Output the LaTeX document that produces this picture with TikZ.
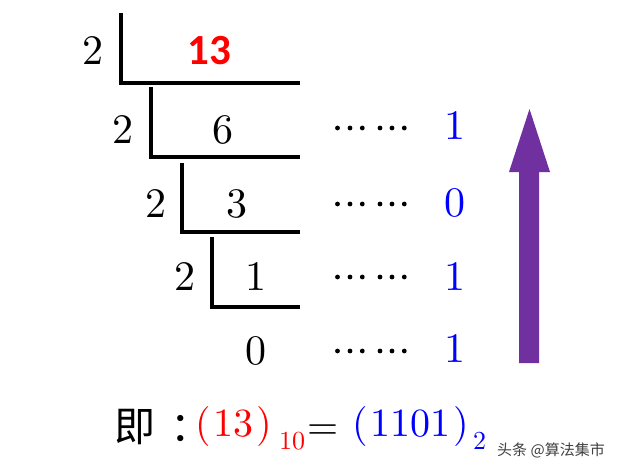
\documentclass[tikz,border=0pt]{standalone}
\usepackage{fontspec}
\newfontfamily\cjk{Noto Sans CJK SC}
\newfontfamily\calib{Carlito}
\newfontfamily\lmten{lmroman10-regular}[Extension=.otf]
\definecolor{arrowpurple}{HTML}{7030A0}
\definecolor{resblue}{HTML}{0000FF}
\definecolor{resred}{HTML}{FF0000}
\begin{document}
\begin{tikzpicture}[x=1pt,y=-1pt,
  num/.style={font=\lmten\fontsize{42}{50}\selectfont, inner sep=0pt},
  res/.style={num, text=resblue},
  dotmark/.style={fill=black, draw=none},
  bracket/.style={line width=4pt},
  formula/.style={font=\lmten\fontsize{40}{48}\selectfont, inner sep=0pt, anchor=base west},
  subs/.style={font=\lmten\fontsize{26}{30}\selectfont, inner sep=0pt, anchor=base west},
]
\fill[white] (0,0) rectangle (640,471);
\useasboundingbox (0,0) rectangle (640,471);

% brackets
\draw[bracket] (121,13) -- (121,83) -- (300,83);
\draw[bracket] (151,87) -- (151,157) -- (300,157);
\draw[bracket] (182,163) -- (182,232) -- (300,232);
\draw[bracket] (212,237) -- (212,307) -- (300,307);

% divisors and quotients
\node[num] (d1) at (93,51) {2};
\node[num, text=resred, font=\calib\bfseries\fontsize{43}{50}\selectfont] (q1) at (209,51) {13};
\node[num] (d2) at (123,130) {2};
\node[num] (q2) at (223,130) {6};
\node[num] (d3) at (156,204) {2};
\node[num] (q3) at (237,204) {3};
\node[num] (d4) at (185,277) {2};
\node[num] (q4) at (256,277) {1};
\node[num] (q5) at (256,351) {0};

% dot leaders
\foreach \yy in {128,204,277,351}{
  \foreach \xx in {337.5,350,362.3,380,392,404.3}{
    \fill[dotmark] (\xx,\yy) circle[radius=2.4];
  }
}

% remainders
\node[res] (r1) at (455,126) {1};
\node[res] (r2) at (455,203) {0};
\node[res] (r3) at (455,277) {1};
\node[res] (r4) at (455,349) {1};

% arrow
\fill[arrowpurple] (519,363) -- (519,172) -- (509,172) -- (529.5,109) -- (550,172) -- (539,172) -- (539,363) -- cycle;

% formula
\node[formula, font=\cjk\fontsize{41}{48}\selectfont] (ji) at (114,441) {即};
\node[formula, font=\cjk\fontsize{41}{48}\selectfont] (colon) at (170,441) {：};
\node[formula, text=resred] (dec) at (195,436) {(\kern3pt13\kern3pt)};
\node[subs, text=resred] (dsub) at (279,449) {10};
\node[formula] (eq) at (307,439) {=};
\node[formula, text=resblue] (bin) at (352,436) {(\kern3pt1101\kern3pt)};
\node[subs, text=resblue] (bsub) at (473,449) {2};

% watermark
\node[font=\cjk\fontsize{15}{18}\selectfont, text=black!75, inner sep=0pt] (wm) at (551,450) {头条 @算法集市};
\end{tikzpicture}
\end{document}
